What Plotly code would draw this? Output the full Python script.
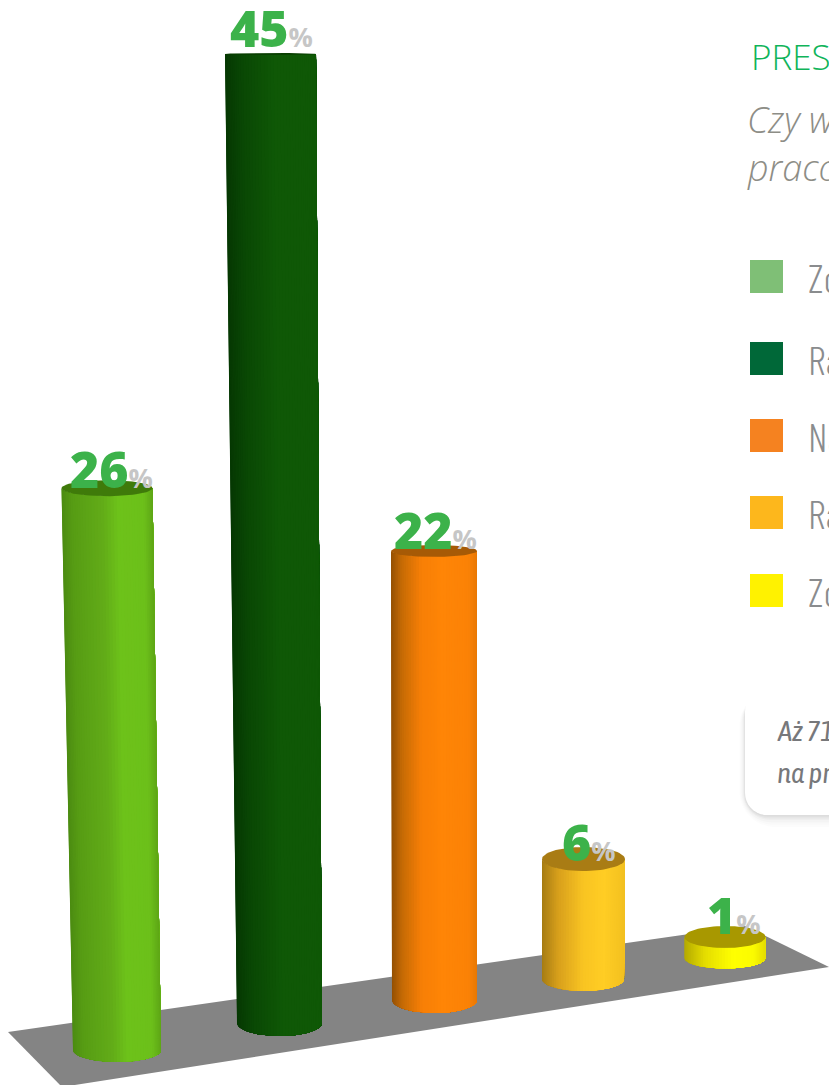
import numpy as np
import plotly.graph_objects as go

# Survey results, in percent
answers = ["Zo", "Ra", "Na", "Ra", "Zo"]
values = [26, 45, 22, 6, 1]
swatch_colors = ["#7fbf76", "#006838", "#f58220", "#fdb71c", "#fff200"]

W, H = 829, 1085
UNIT = 21.0  # pixels per percentage point on the y axis
NARROW = "Barlow Condensed, Asap Condensed, Roboto Condensed, Archivo Narrow, Roboto, sans-serif"
NOTE_FONT = "Asap Condensed, Roboto Condensed, Archivo Narrow, Roboto, sans-serif"


def vy(px):
    """Convert a distance from the top of the page to y-axis units."""
    return (H - px) / UNIT


def hex_rgb(c):
    return np.array([int(c[i:i + 2], 16) for i in (1, 3, 5)], float)


def ramp(stops, t):
    pos = [s[0] for s in stops]
    rgb = np.array([hex_rgb(s[1]) for s in stops])
    return "rgb({:.0f},{:.0f},{:.0f})".format(*[np.interp(t, pos, rgb[:, i]) for i in range(3)])


# Projection of each cylinder: foot centre, radii, lean, foreshortening and label placement
cylinders = [
    dict(foot=(117, 1050), top_x=107, foot_r=44, top_r=45.5, foot_ry=12, top_ry=8, depth=1.029, cap="#3f7a0a",
         label_dx=-39, label_dy=0,
         stops=[(0, "#4c8c12"), (.12, "#579c14"), (.45, "#62ac18"), (.62, "#6dc21a"), (.9, "#6cc01a"), (1, "#5ea616")]),
    dict(foot=(279.5, 1023), top_x=270.5, foot_r=42.5, top_r=45.5, foot_ry=13, top_ry=1, depth=1.0254, cap="#0a3f02",
         label_dx=-43, label_dy=-7,
         stops=[(0, "#063803"), (.18, "#094704"), (.55, "#0f5806"), (1, "#0f5806")]),
    dict(foot=(434.5, 1000), top_x=434, foot_r=42.5, top_r=43, foot_ry=13, top_ry=6, depth=0.972, cap="#a65a06",
         label_dx=-42, label_dy=-2,
         stops=[(0, "#945004"), (.12, "#c46a05"), (.35, "#f77f06"), (.6, "#ff8506"), (.9, "#fb8206"), (1, "#e87805")]),
    dict(foot=(583, 979), top_x=583.5, foot_r=41, top_r=41.5, foot_ry=12, top_ry=12, depth=0.952, cap="#a97c14",
         label_dx=-23.5, label_dy=2,
         stops=[(0, "#a67c14"), (.2, "#d8a01c"), (.5, "#f9c422"), (.75, "#ffcd24"), (1, "#f2c020")]),
    dict(foot=(725, 958), top_x=725, foot_r=40.5, top_r=40.5, foot_ry=10.5, top_ry=11, depth=1.0, cap="#a89800",
         label_dx=-20, label_dy=-3,
         stops=[(0, "#b4aa00"), (.25, "#e4dc00"), (.6, "#ffff00"), (.85, "#fbfb00"), (1, "#e4dc00")]),
]

floor_x = [8, 745, 829, 829, 62, 8]
floor_y = [1032, 926, 967, 967, 1087, 1032]

fig = go.Figure()

fig.add_trace(go.Scatter(x=floor_x, y=[vy(p) for p in floor_y], mode="lines", fill="toself",
                         fillcolor="#848484", line=dict(width=0, color="#848484"), hoverinfo="skip"))

# Each cylinder is painted left to right: every shade covers its own strip and
# everything to the right of it, so the next shade lies on top without seams.
N_STRIPS = 44
for value, c in zip(values, cylinders):
    foot_cx, foot_px = c["foot"]
    base = vy(foot_px)
    top = base + value * c["depth"]
    angles = np.linspace(np.pi, 0, N_STRIPS + 1)
    for k in range(N_STRIPS):
        t = (np.cos((angles[k] + angles[k + 1]) / 2) + 1) / 2
        col = ramp(c["stops"], t)
        arc = angles[k:]
        xs = np.concatenate([c["top_x"] + c["top_r"] * np.cos(arc),
                             foot_cx + c["foot_r"] * np.cos(arc[::-1])])
        ys = np.concatenate([top - c["top_ry"] * np.sin(arc) / UNIT,
                             base - c["foot_ry"] * np.sin(arc[::-1]) / UNIT])
        fig.add_trace(go.Scatter(x=xs, y=ys, mode="lines", fill="toself", fillcolor=col,
                                 line=dict(width=0, color=col), hoverinfo="skip"))
    ring = np.linspace(0, 2 * np.pi, 72)
    fig.add_trace(go.Scatter(x=c["top_x"] + c["top_r"] * np.cos(ring),
                             y=top + c["top_ry"] * np.sin(ring) / UNIT,
                             mode="lines", fill="toself", fillcolor=c["cap"],
                             line=dict(width=0, color=c["cap"]), hoverinfo="skip"))

    # Value label sitting on the cap
    fig.add_annotation(x=c["top_x"] + c["label_dx"], y=top, xref="x", yref="y",
                       xanchor="left", yanchor="bottom", yshift=-17 - c["label_dy"], showarrow=False,
                       text=f"{value}<span style='font-size:27px;font-weight:700;color:#c6c6c6'>%</span>",
                       font=dict(family="Open Sans", size=50, color="#3cb24a", weight=800))

# Legend swatches
swatch_px = [276.5, 358.5, 435.5, 512.5, 590.5]
fig.add_trace(go.Scatter(x=[766.5] * 5, y=[vy(p) for p in swatch_px], mode="markers",
                         marker=dict(symbol="square", size=33, color=swatch_colors,
                                     line=dict(width=0)), hoverinfo="skip"))
for name, p in zip(answers, swatch_px):
    fig.add_annotation(x=806, y=vy(p), xref="x", yref="y", xanchor="left", yanchor="middle", showarrow=False,
                       text=name, font=dict(family=NARROW, size=40, color="#8a8c8e", weight=300))

# Heading
fig.add_annotation(x=749, y=vy(56), xref="x", yref="y", xanchor="left", yanchor="middle", showarrow=False,
                   text="PRES", font=dict(family="Open Sans", size=35, color="#10b45a", weight=300))
fig.add_annotation(x=745, y=vy(119), xref="x", yref="y", xanchor="left", yanchor="middle", showarrow=False,
                   text="<i>Czy w</i>", font=dict(family="Open Sans", size=36, color="#8d8d86", weight=300))
fig.add_annotation(x=745, y=vy(167), xref="x", yref="y", xanchor="left", yanchor="middle", showarrow=False,
                   text="<i>praco</i>", font=dict(family="Open Sans", size=36, color="#8d8d86", weight=300))


def rounded_path(x0, y0, x1, y1, r):
    k = 0.55 * r
    pts = [
        f"M {x0 + r} {vy(y0)}", f"L {x1} {vy(y0)}", f"L {x1} {vy(y1)}", f"L {x0 + r} {vy(y1)}",
        f"C {x0 + r - k} {vy(y1)} {x0} {vy(y1 - r + k)} {x0} {vy(y1 - r)}",
        f"L {x0} {vy(y0 + r)}",
        f"C {x0} {vy(y0 + r - k)} {x0 + r - k} {vy(y0)} {x0 + r} {vy(y0)}", "Z",
    ]
    return " ".join(pts)


# Call-out box with a soft shadow built from stacked translucent layers
for grow, op in [(14, .01), (11, .012), (8, .018), (5, .025), (3, .03), (1, .035)]:
    fig.add_shape(type="path", xref="x", yref="y", layer="below", line_width=0, fillcolor="#000000", opacity=op,
                  path=rounded_path(745 - grow * .4, 694 - grow * .3, 860, 816 + grow * .8, 22 + grow))
fig.add_shape(type="path", xref="x", yref="y", layer="below", fillcolor="#ffffff", line=dict(width=0),
              path=rounded_path(745, 690, 860, 815, 22))
fig.add_annotation(x=775, y=vy(730), xref="x", yref="y", xanchor="left", yanchor="middle", showarrow=False,
                   text="<i>Aż 71</i>", font=dict(family=NOTE_FONT, size=29, color="#77787b", weight=400))
fig.add_annotation(x=775, y=vy(772), xref="x", yref="y", xanchor="left", yanchor="middle", showarrow=False,
                   text="<i>na pr</i>", font=dict(family=NOTE_FONT, size=29, color="#77787b", weight=400))

fig.update_layout(
    width=W, height=H, margin=dict(l=0, r=0, t=0, b=0), showlegend=False,
    paper_bgcolor="white", plot_bgcolor="white",
    xaxis=dict(range=[0, W], visible=False, fixedrange=True),
    yaxis=dict(range=[0, H / UNIT], visible=False, fixedrange=True),
)
fig.write_html("out.html", config={"displayModeBar": False})
